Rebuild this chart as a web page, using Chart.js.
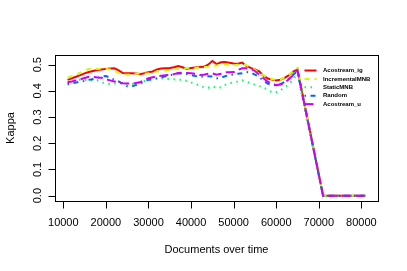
<!DOCTYPE html>
<html>
<head>
<meta charset="utf-8">
<script src="https://cdn.jsdelivr.net/npm/chart.js@4.4.0/dist/chart.umd.min.js"></script>
<style>
html,body{margin:0;padding:0;background:#fff;}
canvas{display:block;}
</style>
</head>
<body>
<canvas id="c" width="407" height="271"></canvas>
<script>
const docs = [11000,12000,13000,14000,15000,16000,17000,18000,19000,20000,
  21000,22000,23000,24000,25000,26000,27000,28000,29000,30000,
  31000,32000,33000,34000,35000,36000,37000,38000,39000,40000,
  41000,42000,43000,44000,45000,46000,47000,48000,49000,50000,
  51000,52000,53000,54000,55000,56000,57000,58000,59000,60000,
  61000,62000,63000,64000,65000,
  71000,72000,73000,74000,75000,76000,77000,78000,79000,80000,81000];
const tail = [0,0,0,0,0,0,0,0,0,0,0];

const acostreamIg = [0.442,0.448,0.454,0.460,0.467,0.472,0.476,0.480,0.482,0.484,
  0.485,0.486,0.478,0.468,0.467,0.467,0.466,0.464,0.467,0.471,
  0.474,0.482,0.485,0.486,0.487,0.490,0.495,0.490,0.484,0.487,
  0.489,0.491,0.492,0.500,0.514,0.502,0.509,0.510,0.507,0.505,
  0.504,0.508,0.495,0.488,0.482,0.475,0.458,0.447,0.443,0.440,
  0.443,0.450,0.460,0.474,0.482].concat(tail);
const incrementalMNB = [0.450,0.456,0.462,0.470,0.478,0.484,0.485,0.484,0.485,0.484,
  0.482,0.477,0.468,0.463,0.462,0.463,0.465,0.466,0.466,0.467,
  0.470,0.474,0.476,0.478,0.480,0.482,0.484,0.485,0.486,0.486,
  0.487,0.489,0.491,0.492,0.495,0.497,0.500,0.502,0.500,0.498,
  0.500,0.501,0.498,0.490,0.480,0.470,0.460,0.450,0.445,0.442,
  0.443,0.452,0.462,0.476,0.488].concat(tail);
const staticMNB = [0.429,0.433,0.438,0.443,0.441,0.442,0.438,0.440,0.432,0.429,
  0.426,0.428,0.429,0.429,0.427,0.425,0.428,0.433,0.437,0.441,
  0.444,0.447,0.448,0.446,0.445,0.444,0.443,0.442,0.438,0.432,
  0.427,0.420,0.414,0.412,0.418,0.411,0.414,0.423,0.430,0.432,
  0.436,0.440,0.435,0.429,0.424,0.418,0.413,0.404,0.395,0.395,
  0.402,0.414,0.424,0.445,0.465].concat(tail);
const randomSel = [0.425,0.428,0.432,0.435,0.438,0.442,0.445,0.450,0.455,0.457,
  0.450,0.443,0.436,0.426,0.418,0.416,0.422,0.428,0.435,0.442,
  0.445,0.448,0.452,0.456,0.460,0.463,0.467,0.466,0.464,0.460,
  0.457,0.455,0.454,0.456,0.455,0.448,0.450,0.456,0.461,0.463,
  0.465,0.467,0.472,0.470,0.462,0.454,0.438,0.428,0.422,0.421,
  0.426,0.434,0.446,0.462,0.475].concat(tail);
const acostreamU = [0.433,0.436,0.440,0.444,0.449,0.454,0.453,0.451,0.450,0.445,
  0.440,0.436,0.432,0.429,0.428,0.429,0.430,0.433,0.440,0.448,
  0.452,0.456,0.458,0.460,0.461,0.464,0.468,0.469,0.468,0.467,
  0.465,0.461,0.462,0.465,0.467,0.462,0.465,0.471,0.471,0.472,
  0.480,0.486,0.486,0.484,0.476,0.462,0.448,0.435,0.428,0.422,
  0.424,0.432,0.445,0.460,0.478].concat(tail);

const seriesNames = ['Acostream_ig','IncrementalMNB','StaticMNB','Random','Acostream_u'];
const seriesValues = [acostreamIg, incrementalMNB, staticMNB, randomSel, acostreamU];
const colors = ['#FF0000','#CCFF00','#00FF66','#0066FF','#CC00FF'];
const dashes = [[], [5,5], [1.5,4.5], [1.5,4.5,5,4.5], [9,4.5]];

const xTicks = [10000,20000,30000,40000,50000,60000,70000,80000];
const yTicks = [0.0,0.1,0.2,0.3,0.4,0.5];
const yTickLabels = ['0.0','0.1','0.2','0.3','0.4','0.5'];
const xTitle = 'Documents over time';
const yTitle = 'Kappa';

const datasets = seriesNames.map((n,i)=>({
  label: n,
  data: docs.map((d,j)=>({x:d, y:seriesValues[i][j]})),
  borderColor: colors[i],
  backgroundColor: colors[i],
  borderWidth: 2,
  borderDash: dashes[i],
  pointRadius: 0,
  fill: false,
  tension: 0,
  order: 5 - i
}));

const rAxes = {
  id: 'rAxes',
  afterDraw(chart) {
    const ctx = chart.ctx;
    const a = chart.chartArea;
    const xs = chart.scales.x, ys = chart.scales.y;
    ctx.save();
    ctx.strokeStyle = '#000';
    ctx.fillStyle = '#000';
    ctx.lineWidth = 1;
    ctx.setLineDash([]);
    // box
    ctx.strokeRect(Math.round(a.left)+0.5, Math.round(a.top)+0.5,
      Math.round(a.right-a.left), Math.round(a.bottom-a.top));
    // x axis
    const by = Math.round(a.bottom)+0.5;
    ctx.beginPath();
    const x0 = Math.round(xs.getPixelForValue(xTicks[0]))+0.5;
    const x1 = Math.round(xs.getPixelForValue(xTicks[xTicks.length-1]))+0.5;
    ctx.moveTo(x0, by); ctx.lineTo(x1, by);
    xTicks.forEach(t=>{
      const px = Math.round(xs.getPixelForValue(t))+0.5;
      ctx.moveTo(px, by); ctx.lineTo(px, by+7);
    });
    ctx.stroke();
    ctx.font = '11px "Liberation Sans", Arial, sans-serif';
    ctx.textAlign = 'center';
    ctx.textBaseline = 'middle';
    xTicks.forEach(t=>{
      ctx.fillText(String(t), xs.getPixelForValue(t), 223);
    });
    ctx.fillText(xTitle, (a.left+a.right)/2, 250);
    // y axis
    const lx = Math.round(a.left)+0.5;
    ctx.beginPath();
    const y0 = Math.round(ys.getPixelForValue(yTicks[0]))+0.5;
    const y1 = Math.round(ys.getPixelForValue(yTicks[yTicks.length-1]))+0.5;
    ctx.moveTo(lx, y0); ctx.lineTo(lx, y1);
    yTicks.forEach(t=>{
      const py = Math.round(ys.getPixelForValue(t))+0.5;
      ctx.moveTo(lx, py); ctx.lineTo(lx-7, py);
    });
    ctx.stroke();
    yTicks.forEach((t,i)=>{
      ctx.save();
      ctx.translate(38, ys.getPixelForValue(t));
      ctx.rotate(-Math.PI/2);
      ctx.fillText(yTickLabels[i], 0, 0);
      ctx.restore();
    });
    ctx.save();
    ctx.translate(11, (a.top+a.bottom)/2);
    ctx.rotate(-Math.PI/2);
    ctx.fillText(yTitle, 0, 0);
    ctx.restore();
    // legend
    ctx.font = 'bold 6px "Liberation Sans", Arial, sans-serif';
    ctx.textAlign = 'left';
    seriesNames.forEach((n,i)=>{
      const ly = 70.5 + i*8.4;
      ctx.save();
      ctx.strokeStyle = colors[i];
      ctx.lineWidth = 2;
      ctx.setLineDash(dashes[i]);
      ctx.beginPath();
      ctx.moveTo(304.5, ly); ctx.lineTo(316.5, ly);
      ctx.stroke();
      ctx.restore();
      ctx.fillStyle = '#000';
      ctx.fillText(n, 323, ly);
    });
    ctx.restore();
  }
};

new Chart(document.getElementById('c'), {
  type: 'line',
  data: { datasets },
  options: {
    responsive: false,
    animation: false,
    layout: { padding: { left: 55, right: 29, top: 55, bottom: 70 } },
    plugins: { legend: { display: false }, tooltip: { enabled: false } },
    scales: {
      x: { type: 'linear', display: false, min: 8050, max: 83900 },
      y: { type: 'linear', display: false, min: -0.0205, max: 0.537 }
    }
  },
  plugins: [rAxes]
});
</script>
</body>
</html>
